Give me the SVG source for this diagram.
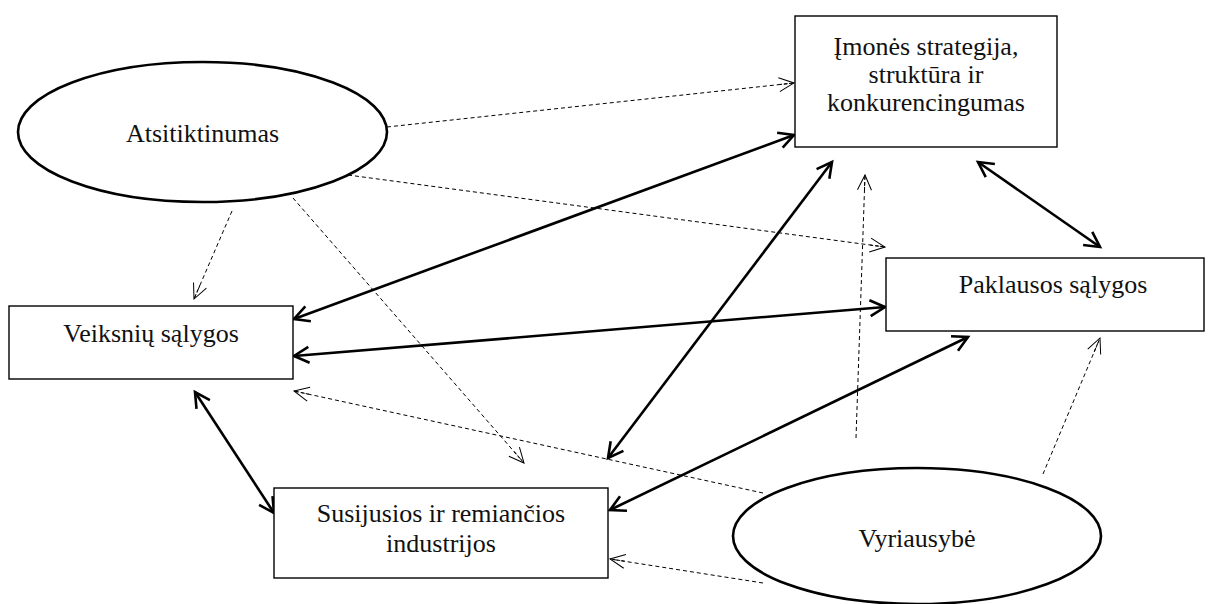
<svg xmlns="http://www.w3.org/2000/svg" width="1211" height="604" viewBox="0 0 1211 604">
  <style>
    .box { fill: #fff; stroke: #000; stroke-width: 1.4; }
    .oval { fill: #fff; stroke: #000; stroke-width: 2.6; }
    .lbl { font-family: "Liberation Serif", "Times New Roman", serif; font-size: 26px; fill: #111; text-anchor: middle; }
    .strong { fill: none; stroke: #000; stroke-width: 2.6; marker-start: url(#headBold); marker-end: url(#headBold); }
    .weak { fill: none; stroke: #000; stroke-width: 1; stroke-dasharray: 4 3; marker-end: url(#headThin); }
  </style>
  <defs>
    <marker id="headBold" markerUnits="userSpaceOnUse" viewBox="-20 -12 24 24" refX="0" refY="0" markerWidth="24" markerHeight="24" orient="auto-start-reverse">
      <path d="M-15,-8 L0,0 L-15,8" fill="none" stroke="#000" stroke-width="2.6"/>
    </marker>
    <marker id="headThin" markerUnits="userSpaceOnUse" viewBox="-20 -12 24 24" refX="0" refY="0" markerWidth="24" markerHeight="24" orient="auto">
      <path d="M-15,-7 L0,0 L-15,7" fill="none" stroke="#000" stroke-width="1"/>
      <path d="M-15,0 L0,0" fill="none" stroke="#000" stroke-width="1" stroke-dasharray="3 2"/>
    </marker>
  </defs>

  <!-- connectors -->
  <g id="connectors">
    <!-- influence of chance -->
    <line class="weak" x1="387" y1="127" x2="794" y2="83"/>
    <line class="weak" x1="348" y1="175" x2="885" y2="247"/>
    <line class="weak" x1="232" y1="211" x2="194" y2="299"/>
    <line class="weak" x1="293" y1="198" x2="524" y2="463"/>
    <!-- influence of government -->
    <line class="weak" x1="763" y1="493" x2="294" y2="391"/>
    <line class="weak" x1="763" y1="583" x2="610" y2="559"/>
    <line class="weak" x1="856" y1="438" x2="865" y2="175"/>
    <line class="weak" x1="1043" y1="474" x2="1100" y2="338"/>
    <!-- two-way links between determinants -->
    <line class="strong" x1="794" y1="135" x2="294" y2="319"/>
    <line class="strong" x1="294" y1="356" x2="885" y2="307"/>
    <line class="strong" x1="832" y1="162" x2="608" y2="458"/>
    <line class="strong" x1="978" y1="162" x2="1100" y2="247"/>
    <line class="strong" x1="195" y1="392" x2="274" y2="513"/>
    <line class="strong" x1="968" y1="337" x2="610" y2="510"/>
  </g>

  <g id="strategija">
    <rect class="box" x="795" y="16" width="262" height="131"/>
    <text class="lbl" x="926" y="55">Įmonės strategija,</text>
    <text class="lbl" x="926" y="83">struktūra ir</text>
    <text class="lbl" x="926" y="111">konkurencingumas</text>
  </g>

  <g id="atsitiktinumas">
    <ellipse class="oval" cx="202.5" cy="132" rx="184.5" ry="70"/>
    <text class="lbl" x="202.5" y="142">Atsitiktinumas</text>
  </g>

  <g id="veiksniai">
    <rect class="box" x="9" y="306" width="284" height="73"/>
    <text class="lbl" x="151" y="342">Veiksnių sąlygos</text>
  </g>

  <g id="paklausa">
    <rect class="box" x="886" y="258" width="318" height="73"/>
    <text class="lbl" x="1053" y="293">Paklausos sąlygos</text>
  </g>

  <g id="industrijos">
    <rect class="box" x="274" y="488" width="334" height="90"/>
    <text class="lbl" x="441" y="522">Susijusios ir remiančios</text>
    <text class="lbl" x="441" y="552">industrijos</text>
  </g>

  <g id="vyriausybe">
    <ellipse class="oval" cx="917" cy="536" rx="184" ry="68"/>
    <text class="lbl" x="917" y="547">Vyriausybė</text>
  </g>
</svg>
